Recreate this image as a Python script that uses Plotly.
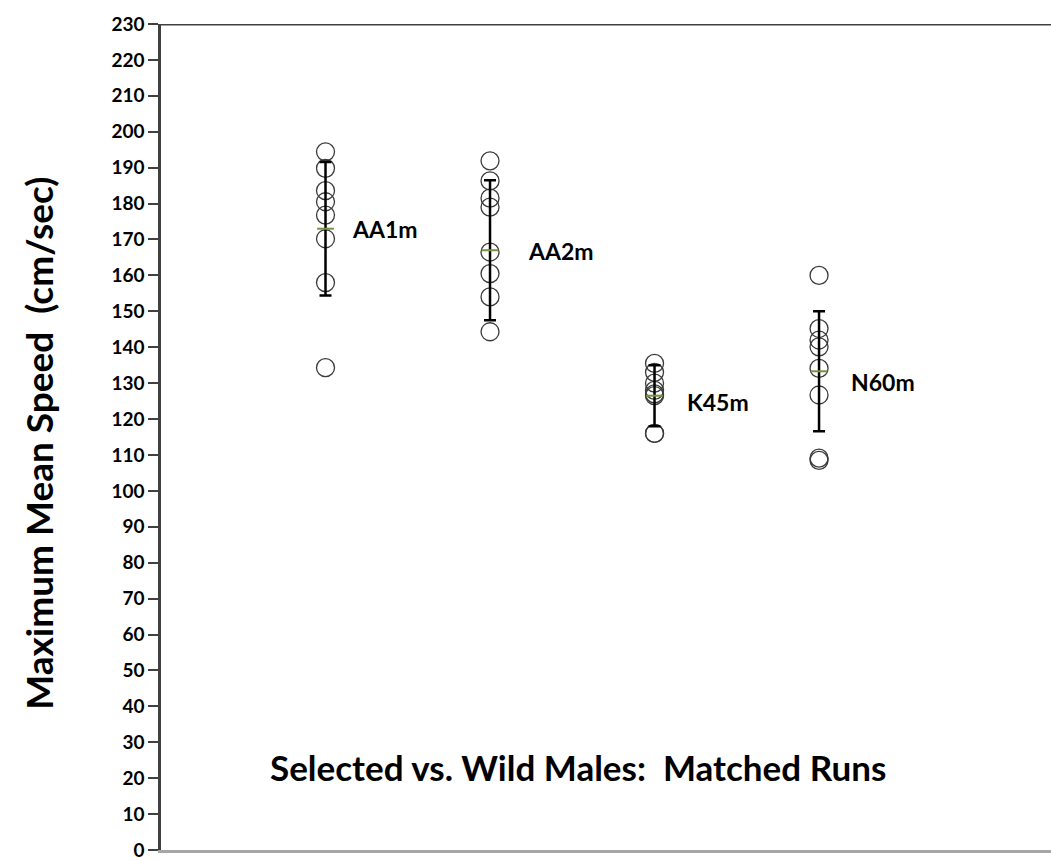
import plotly.graph_objects as go

# Strain groups and their x slots
groups = ["AA1m", "AA2m", "K45m", "N60m"]
positions = [1, 2, 3, 4]

# Individual maximum mean speeds (cm/sec)
aa1m = [194.4, 189.8, 183.6, 180.5, 176.8, 170.2, 158.0, 134.3]
aa2m = [191.9, 186.3, 181.5, 179.0, 166.5, 160.5, 154.0, 144.3]
k45m = [135.5, 133.0, 130.0, 128.0, 127.0, 126.5, 116.0, 116.0]
n60m = [160.0, 145.2, 142.0, 140.1, 134.1, 126.7, 109.1, 108.5]

# Group means and standard deviations
means = [173.0, 167.0, 126.5, 133.3]
sds = [18.6, 19.5, 8.5, 16.7]

# Axis ticks
y_ticks = list(range(0, 231, 10))

title_text = "Selected vs. Wild Males:  Matched Runs"
y_title = "Maximum Mean Speed  (cm/sec)"

# Pixel nudges for the group name labels (x, y)
label_shift = [(24, 0), (36, -1), (30, -6), (30, -11)]

fig = go.Figure()

for pos, vals in zip(positions, [aa1m, aa2m, k45m, n60m]):
    fig.add_trace(go.Scatter(
        x=[pos] * len(vals), y=vals, mode="markers",
        marker=dict(symbol="circle-open", size=18,
                    color="#3a3a3a", line=dict(width=1.3, color="#3a3a3a")),
        showlegend=False, hoverinfo="y",
    ))

fig.add_trace(go.Scatter(
    x=positions, y=means, mode="markers",
    marker=dict(symbol="line-ew", size=12,
                line=dict(width=2, color="#77933C"), color="#77933C"),
    error_y=dict(type="data", array=sds, visible=True,
                 color="#000000", thickness=2.5, width=6),
    showlegend=False, hoverinfo="y",
))

for pos, m, name, (dx, dy) in zip(positions, means, groups, label_shift):
    fig.add_annotation(
        x=pos, y=m, text=name, showarrow=False,
        xanchor="left", yanchor="middle", xshift=dx, yshift=dy,
        font=dict(family="Lato", size=23, color="#000000", weight="bold"),
    )

fig.add_annotation(
    xref="paper", yref="paper", x=0.4685, y=0.1,
    text=title_text, showarrow=False, xanchor="center", yanchor="middle",
    font=dict(family="Lato", size=35, color="#000000", weight="bold"),
)

fig.add_annotation(
    xref="paper", yref="paper", x=-0.138, y=0.492,
    text=y_title, showarrow=False, textangle=-90,
    xanchor="center", yanchor="middle",
    font=dict(family="Lato", size=37, color="#000000", weight="bold"),
)

# Top border of the plot frame
fig.add_shape(type="line", xref="paper", yref="y", x0=0, x1=1, y0=230, y1=230,
              line=dict(color="#404040", width=3))

fig.update_xaxes(range=[0, 5.41], showticklabels=False, ticks="",
                 showgrid=False, zeroline=False, showline=True,
                 linecolor="#a6a6a6", linewidth=3)
fig.update_yaxes(range=[0, 230], tickvals=y_ticks, ticks="outside",
                 ticklen=10, tickwidth=2, tickcolor="#404040",
                 showgrid=False, zeroline=False, showline=True,
                 linecolor="#404040", linewidth=2.5,
                 ticklabeloverflow="allow",
                 tickfont=dict(family="Lato", size=19, color="#000000",
                               weight="bold"))

fig.update_layout(
    width=1051, height=861,
    margin=dict(l=161, r=0, t=24, b=8),
    plot_bgcolor="white", paper_bgcolor="white",
    font=dict(family="Lato"),
)

fig.write_html("out.html")
